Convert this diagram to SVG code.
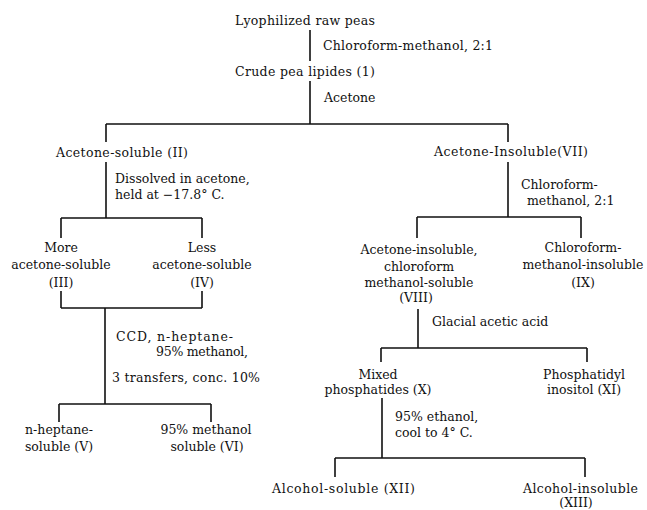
<svg xmlns="http://www.w3.org/2000/svg" width="647" height="510" viewBox="0 0 647 510">
<style>
text{font-family:"DejaVu Serif","Liberation Serif",serif;font-size:12.5px;fill:#111}
.c{text-anchor:middle}
.conn path{stroke:#111;stroke-width:1.6;fill:none}
</style>
<rect width="647" height="510" fill="#fff"/>
<g class="conn" id="connectors">
<path d="M310,30V61M310,81V124M106,124H508M106,124V142M508,124V142"/>
<path d="M106,162V218M61,218H202M61,218V238M202,218V238"/>
<path d="M508,162V217M417,217H581M417,217V238M581,217V238"/>
<path d="M61,291V308M202,291V308M61,308H202M105,308V404M59,404H211M59,404V422M211,404V422"/>
<path d="M418,309V348M381,348H587M381,348V362M587,348V362"/>
<path d="M382,398V458M335,458H585M335,458V477M585,458V477"/>
</g>
<g id="n0"><text x="235" y="25" textLength="140" lengthAdjust="spacing">Lyophilized raw peas</text></g>
<g id="l0"><text x="323" y="50" textLength="170" lengthAdjust="spacing">Chloroform-methanol, 2:1</text></g>
<g id="n1"><text x="235" y="76" textLength="140" lengthAdjust="spacing">Crude pea lipides (1)</text></g>
<g id="l1"><text x="324" y="102">Acetone</text></g>
<g id="n2"><text x="56" y="157" textLength="132" lengthAdjust="spacing">Acetone-soluble (II)</text></g>
<g id="l2"><text x="115" y="183">Dissolved in acetone,</text><text x="115" y="199">held at −17.8° C.</text></g>
<g id="n3"><text x="61" y="252" class="c">More</text><text x="61" y="269" class="c">acetone-soluble</text><text x="61" y="287" class="c">(III)</text></g>
<g id="n4"><text x="202" y="252" class="c">Less</text><text x="202" y="269" class="c">acetone-soluble</text><text x="202" y="287" class="c">(IV)</text></g>
<g id="l3"><text x="116" y="341" textLength="117" lengthAdjust="spacing">CCD, n-heptane-</text><text x="156" y="356" textLength="92" lengthAdjust="spacing">95% methanol,</text><text x="112" y="382" textLength="148" lengthAdjust="spacing">3 transfers, conc. 10%</text></g>
<g id="n5"><text x="59" y="434" class="c">n-heptane-</text><text x="59" y="451" class="c">soluble (V)</text></g>
<g id="n6"><text x="206" y="434" class="c">95% methanol</text><text x="207" y="451" class="c">soluble (VI)</text></g>
<g id="n7"><text x="434" y="156" textLength="154" lengthAdjust="spacing">Acetone-Insoluble(VII)</text></g>
<g id="l4"><text x="521" y="189">Chloroform-</text><text x="527" y="205">methanol, 2:1</text></g>
<g id="n8"><text x="419" y="254" class="c">Acetone-insoluble,</text><text x="419" y="271" class="c">chloroform</text><text x="419" y="287" class="c">methanol-soluble</text><text x="416" y="302" class="c">(VIII)</text></g>
<g id="n9"><text x="583" y="252" class="c">Chloroform-</text><text x="583" y="269" class="c">methanol-insoluble</text><text x="583" y="287" class="c">(IX)</text></g>
<g id="l5"><text x="432" y="326">Glacial acetic acid</text></g>
<g id="n10"><text x="378" y="379" class="c">Mixed</text><text x="378" y="394" class="c">phosphatides (X)</text></g>
<g id="n11"><text x="584" y="379" class="c">Phosphatidyl</text><text x="584" y="394" class="c">inositol (XI)</text></g>
<g id="l6"><text x="395" y="421">95% ethanol,</text><text x="395" y="437">cool to 4° C.</text></g>
<g id="n12"><text x="272" y="493" textLength="143" lengthAdjust="spacing">Alcohol-soluble (XII)</text></g>
<g id="n13"><text x="523" y="493" textLength="115" lengthAdjust="spacing">Alcohol-insoluble</text><text x="576" y="507" class="c">(XIII)</text></g>
</svg>
